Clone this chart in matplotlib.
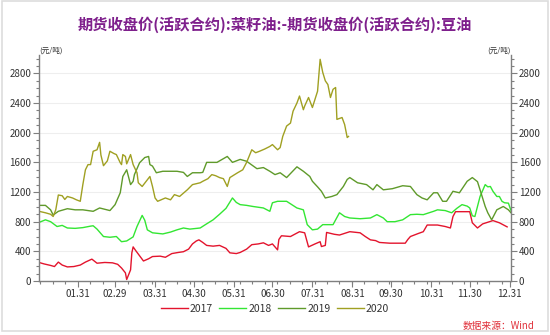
import matplotlib
matplotlib.use("Agg")
import matplotlib.pyplot as plt
from matplotlib.ticker import AutoMinorLocator, FixedLocator, MultipleLocator
from matplotlib.patches import Rectangle

plt.rcParams['font.family'] = ['Noto Sans CJK SC', 'DejaVu Sans']

# day of year (0 = Jan 1) and spread in yuan/ton for each year
days_2017 = [0, 4, 9, 12, 15, 18, 22, 27, 32, 36, 41, 45, 51, 57, 61, 64, 67, 68, 71, 72,
             73, 75, 78, 81, 85, 88, 94, 98, 103, 108, 112, 116, 119, 122, 124, 127, 130,
             135, 140, 145, 148, 153, 156, 161, 165, 170, 174, 178, 181, 184, 185, 186, 188,
             195, 202, 206, 209, 214, 218, 219, 222, 223, 229, 233, 241, 249, 253, 257, 261,
             264, 272, 284, 286, 288, 294, 298, 301, 309, 315, 319, 321, 323, 334, 336, 340,
             344, 352, 357, 363]
vals_2017 = [250, 230, 210, 195, 255, 215, 190, 195, 215, 255, 295, 240, 250, 245, 225, 175,
             110, 20, 150, 380, 460, 410, 340, 270, 300, 330, 335, 320, 370, 385, 395, 430,
             500, 540, 555, 520, 480, 470, 480, 440, 380, 370, 385, 430, 490, 500, 515, 480,
             500, 440, 420, 560, 610, 600, 665, 650, 460, 500, 530, 465, 480, 655, 630, 620,
             665, 650, 600, 555, 545, 520, 510, 510, 560, 600, 640, 665, 755, 755, 735, 715,
             870, 935, 935, 785, 715, 770, 815, 785, 730]

days_2018 = [0, 5, 9, 14, 18, 22, 28, 34, 40, 42, 45, 50, 55, 60, 64, 68, 73, 76, 80, 82,
             84, 88, 96, 102, 107, 112, 117, 125, 129, 135, 140, 145, 150, 153, 156, 161, 166,
             174, 179, 181, 185, 192, 200, 205, 208, 212, 216, 220, 228, 233, 237, 241, 249,
             257, 262, 267, 270, 276, 282, 288, 293, 298, 306, 309, 315, 320, 324, 328, 332,
             334, 336, 338, 342, 346, 348, 350, 352, 355, 357, 359, 361, 364, 366]
vals_2018 = [790, 825, 800, 735, 750, 715, 710, 720, 740, 745, 700, 600, 590, 600, 530, 540,
             595, 735, 885, 820, 690, 650, 635, 660, 690, 715, 700, 715, 760, 825, 900, 980,
             1120, 1060, 1030, 1020, 1005, 985, 940, 1055, 1075, 1075, 985, 960, 760, 690,
             700, 760, 760, 920, 870, 850, 840, 850, 895, 850, 800, 800, 825, 895, 900, 895,
             940, 960, 950, 920, 980, 1030, 1010, 985, 880, 870, 1140, 1300, 1270, 1275, 1210,
             1140, 1140, 1075, 1055, 1050, 950]

days_2019 = [0, 5, 9, 11, 15, 22, 28, 34, 42, 47, 55, 59, 63, 65, 68, 71, 73, 74, 78, 82,
             85, 86, 88, 91, 96, 99, 104, 107, 112, 115, 119, 125, 127, 130, 138, 146, 150,
             156, 161, 169, 174, 179, 183, 187, 192, 200, 205, 210, 212, 216, 219, 222, 227,
             231, 236, 239, 241, 247, 254, 259, 262, 267, 274, 282, 288, 293, 297, 301, 306,
             309, 313, 316, 321, 326, 332, 336, 340, 342, 346, 348, 351, 355, 360, 364, 366]
vals_2019 = [1020, 1020, 960, 890, 940, 975, 960, 960, 940, 985, 950, 1030, 1190, 1410, 1500,
             1300, 1345, 1435, 1595, 1665, 1680, 1570, 1550, 1460, 1480, 1480, 1480, 1480,
             1465, 1410, 1460, 1460, 1465, 1600, 1600, 1680, 1600, 1640, 1615, 1515, 1530,
             1480, 1435, 1460, 1395, 1540, 1480, 1410, 1345, 1270, 1210, 1120, 1140, 1165,
             1275, 1370, 1395, 1325, 1300, 1230, 1300, 1230, 1245, 1285, 1275, 1165, 1120,
             1095, 1190, 1190, 1075, 1075, 1210, 1190, 1345, 1395, 1340, 1230, 1005, 920, 825,
             960, 1005, 960, 920]

days_2020 = [0, 5, 9, 11, 13, 15, 18, 20, 22, 26, 29, 32, 34, 36, 38, 40, 42, 45, 47, 48,
             50, 53, 55, 58, 60, 63, 64, 65, 67, 68, 71, 73, 76, 77, 80, 84, 86, 88, 90, 92,
             98, 102, 105, 109, 115, 119, 125, 127, 131, 134, 137, 140, 143, 146, 148, 154,
             158, 161, 165, 168, 171, 175, 179, 181, 185, 187, 189, 192, 195, 197, 200, 202,
             205, 206, 209, 212, 216, 218, 220, 222, 224, 226, 228, 230, 231, 235, 237, 239, 240]
vals_2020 = [940, 920, 900, 870, 960, 1160, 1150, 1100, 1140, 1120, 1095, 1075, 1300, 1500,
             1570, 1570, 1750, 1770, 1870, 1700, 1555, 1620, 1750, 1720, 1705, 1595, 1570,
             1705, 1680, 1580, 1705, 1570, 1460, 1325, 1275, 1365, 1410, 1275, 1120, 1075,
             1120, 1095, 1165, 1140, 1230, 1300, 1325, 1345, 1380, 1435, 1420, 1395, 1380,
             1275, 1395, 1460, 1500, 1600, 1770, 1730, 1750, 1780, 1815, 1840, 1770, 1800,
             1950, 2090, 2130, 2290, 2400, 2495, 2310, 2360, 2475, 2340, 2560, 2990, 2815,
             2700, 2650, 2475, 2585, 2610, 2180, 2205, 2110, 1935, 1950]

years = ['2017', '2018', '2019', '2020']
colors = ['#e3142d', '#33e633', '#5f9a2a', '#a0a022']
series = [(days_2017, vals_2017), (days_2018, vals_2018),
          (days_2019, vals_2019), (days_2020, vals_2020)]

# month-end ticks for a leap year
month_end_days = [30, 59, 90, 120, 151, 181, 212, 243, 273, 304, 334, 365]
month_end_labels = ['01.31', '02.29', '03.31', '04.30', '05.31', '06.30',
                    '07.31', '08.31', '09.30', '10.31', '11.30', '12.31']

fig = plt.figure(figsize=(5.5, 3.35), dpi=100)
fig.patch.set_facecolor('white')
ax = fig.add_axes([0.0709, 0.1612, 0.8582, 0.675])

for (d, v), yr, c in zip(series, years, colors):
    ax.plot(d, v, color=c, lw=1.0, label=yr)

ax.set_xlim(0, 366)
ax.set_ylim(0, 3050)
ax.xaxis.set_major_locator(FixedLocator(month_end_days))
ax.set_xticklabels(month_end_labels)
ax.xaxis.set_minor_locator(AutoMinorLocator(3))
ax.yaxis.set_major_locator(MultipleLocator(400))
ax.yaxis.set_minor_locator(MultipleLocator(100))
ax.set_yticks(range(0, 2801, 400))

axis_grey = '#7f7f7f'
for side in ['left', 'bottom', 'right']:
    ax.spines[side].set_color(axis_grey)
    ax.spines[side].set_linewidth(1.0)
ax.spines['top'].set_visible(False)

ax.tick_params(axis='both', which='major', direction='out', length=4, width=0.8,
               color=axis_grey, labelsize=7, labelcolor='#333333', pad=1.5)
ax.tick_params(axis='both', which='minor', direction='out', length=2.5, width=0.8,
               color=axis_grey)
ax.tick_params(axis='y', which='both', right=True, labelright=True)
ax.grid(axis='y', which='major', color='#eeeeee', lw=0.8)
ax.set_axisbelow(True)

ax.text(0.0, 1.0, '(元/吨)', transform=ax.transAxes, fontsize=5.5, color='#333333',
        ha='left', va='bottom')
ax.text(1.0, 1.0, '(元/吨)', transform=ax.transAxes, fontsize=5.5, color='#333333',
        ha='right', va='bottom')

fig.text(0.5, 0.925, '期货收盘价(活跃合约):菜籽油:-期货收盘价(活跃合约):豆油',
         ha='center', va='center', fontsize=11, fontweight='bold', color='#7e1f8c')

fig.legend(loc='center', bbox_to_anchor=(0.5, 0.078), ncol=4, frameon=False,
           fontsize=7.5, handlelength=2.6, handletextpad=0.2, columnspacing=0.6,
           labelcolor='#333333')

fig.text(0.972, 0.027, '数据来源：Wind', ha='right', va='center', fontsize=7,
         color='#e0303a', style='italic')

# light frame around the whole figure
fig.patches.append(Rectangle((0.004, 0.012), 0.992, 0.985, transform=fig.transFigure,
                             fill=False, edgecolor='#dddddd', lw=1.2))

fig.savefig('out.png', dpi=100)
